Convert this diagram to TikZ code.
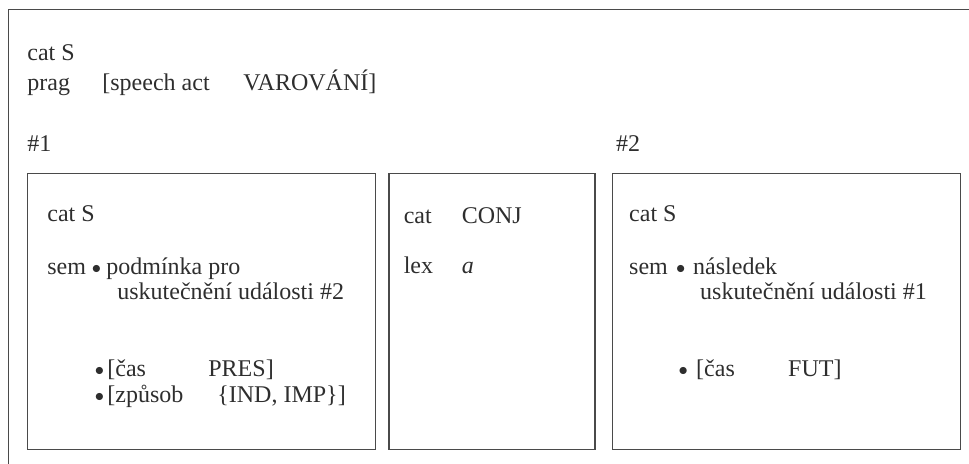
\documentclass[tikz,border=0pt]{standalone}
\usepackage{fontspec}
\setmainfont{Liberation Serif}
\usepackage{xcolor}
\usetikzlibrary{positioning}
\definecolor{framegray}{HTML}{4A4A4A}
\definecolor{inkgray}{HTML}{2E2E2E}
\newcommand{\bul}{\raisebox{0.5pt}{\fontsize{9}{10}\selectfont$\bullet$}}

\begin{document}
\begin{tikzpicture}[
    x=0.5pt,y=-0.5pt,
    every node/.style={font=\fontsize{12}{14}\selectfont,text=inkgray},
    avm/.style={rectangle,draw=framegray,line width=0.7pt,
                minimum width=174pt,minimum height=138pt,
                anchor=north west,inner sep=0pt},
    entry/.style={anchor=base west,inner sep=0pt}
]
\useasboundingbox (0,0) rectangle (969,464);
\node[avm,minimum width=495pt,minimum height=245pt] (outer) at (8,9) {};
% top level features
\node[entry] (topcat) at ([shift={(19,52)}]outer.north west) {cat S};
\node[entry] (prag) at ([shift={(19,82)}]outer.north west)
    {\makebox[37.5pt][l]{prag}\makebox[70.5pt][l]{[speech act}VAROVÁNÍ]};
% the three daughters
\node[avm] (left) at (27,173) {};
\node[avm,minimum width=103pt,right=6pt of left] (mid) {};
\node[avm,right=8pt of mid] (right) {};
\node[entry] (tagone) at ([shift={(0,-21)}]left.north west) {\#1};
\node[entry] (tagtwo) at ([shift={(4,-21)}]right.north west) {\#2};
% left box
\node[entry] (lcat) at ([shift={(20,49)}]left.north west) {cat S};
\node[entry] (lsem) at ([shift={(20,102)}]left.north west)
    {\makebox[22.25pt][l]{sem}\makebox[7.25pt][l]{\bul}podmínka pro};
\node[entry] (lsemb) at ([shift={(90,127)}]left.north west) {uskutečnění události \#2};
\node[entry] (ltense) at ([shift={(67.5,204)}]left.north west)
    {\makebox[6.25pt][l]{\bul}\makebox[50.5pt][l]{[čas}PRES]};
\node[entry] (lmood) at ([shift={(67.5,230)}]left.north west)
    {\makebox[6.25pt][l]{\bul}\makebox[55pt][l]{[způsob}\{IND, IMP\}]};
% middle box
\node[entry] (mcat) at ([shift={(15,51)}]mid.north west) {\makebox[29pt][l]{cat}CONJ};
\node[entry] (mlex) at ([shift={(15,101)}]mid.north west) {\makebox[29pt][l]{lex}\textit{a}};
% right box
\node[entry] (rcat) at ([shift={(17,49)}]right.north west) {cat S};
\node[entry] (rsem) at ([shift={(17,102)}]right.north west)
    {\makebox[23.5pt][l]{sem}\makebox[8.5pt][l]{\bul}následek};
\node[entry] (rsemb) at ([shift={(88,127)}]right.north west) {uskutečnění události \#1};
\node[entry] (rtense) at ([shift={(66.5,204)}]right.north west)
    {\makebox[8.75pt][l]{\bul}\makebox[46pt][l]{[čas}FUT]};
\end{tikzpicture}
\end{document}
